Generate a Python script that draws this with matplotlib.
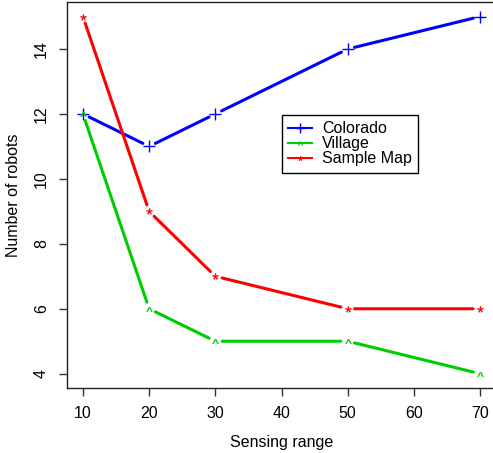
import matplotlib
matplotlib.use("Agg")
import numpy as np
import matplotlib.pyplot as plt
from matplotlib.path import Path
from matplotlib.textpath import TextPath
from matplotlib.font_manager import FontProperties
from matplotlib.lines import Line2D

# data
sensing_range = [10, 20, 30, 50, 70]
colorado = [12, 11, 12, 14, 15]
village = [12, 6, 5, 5, 4]
sample_map = [15, 9, 7, 6, 6]

labels = ["Colorado", "Village", "Sample Map"]
colors = ["#0000FF", "#00CD00", "#FF0000"]

plt.rcParams['font.family'] = ['Liberation Sans', 'DejaVu Sans']
plt.rcParams['font.size'] = 11.5


def char_marker(ch):
    # R style pch character as a centred marker path
    tp = TextPath((0, 0), ch, prop=FontProperties(family='Liberation Sans'))
    v = tp.vertices.copy()
    codes = tp.codes
    real = codes != Path.CLOSEPOLY
    cx = (v[real, 0].min() + v[real, 0].max()) / 2
    cy = (v[real, 1].min() + v[real, 1].max()) / 2
    v[~real] = (cx, cy)
    v[:, 0] -= cx
    v[:, 1] -= cy
    return Path(v, codes)


markers = ['+', char_marker('^'), char_marker('*')]
msizes = [8.5, 4.2, 4.2]
mews = [1.0, 0.3, 0.3]

fig = plt.figure(figsize=(4.93, 4.53), dpi=100)
ax = fig.add_axes([0.136, 0.1435, 0.870, 0.8515])
ax.set_xlim(7.6, 72.4)
ax.set_ylim(3.56, 15.44)

handles = []
for ys, lab, col, mk, ms, mew in zip([colorado, village, sample_map], labels, colors,
                                     markers, msizes, mews):
    # type="b": line segments with gaps round the points
    for i in range(len(sensing_range) - 1):
        ax.annotate("", xy=(sensing_range[i + 1], ys[i + 1]),
                    xytext=(sensing_range[i], ys[i]),
                    arrowprops=dict(arrowstyle='-', color=col, lw=2.2,
                                    shrinkA=5, shrinkB=5))
    ax.plot(sensing_range, ys, linestyle='none', marker=mk, color=col,
            markersize=ms, markeredgewidth=mew)
    handles.append(Line2D([], [], color=col, lw=1.5, marker=mk, markersize=ms * 0.8,
                          markeredgewidth=mew))

ax.set_xticks([10, 20, 30, 40, 50, 60, 70])
ax.set_yticks([4, 6, 8, 10, 12, 14])
ax.set_yticklabels(['4', '6', '8', '10', '12', '14'], rotation=90, va='center')
ax.tick_params(direction='out', length=6, width=1, colors='#333333',
               labelcolor='black', pad=7)
for sp in ax.spines.values():
    sp.set_color('#222222')
    sp.set_linewidth(1)

ax.set_xlabel("Sensing range", labelpad=10)
ax.set_ylabel("Number of robots", labelpad=9)

leg = ax.legend(handles, labels, loc='upper left', bbox_to_anchor=(0.501, 0.708),
                frameon=True, fancybox=False, framealpha=1, edgecolor='black',
                labelspacing=0.0, handlelength=1.5, handletextpad=0.6,
                borderpad=0.4, borderaxespad=0, fontsize=11.5)
leg.get_frame().set_linewidth(1)

fig.savefig("out.png", dpi=100)
